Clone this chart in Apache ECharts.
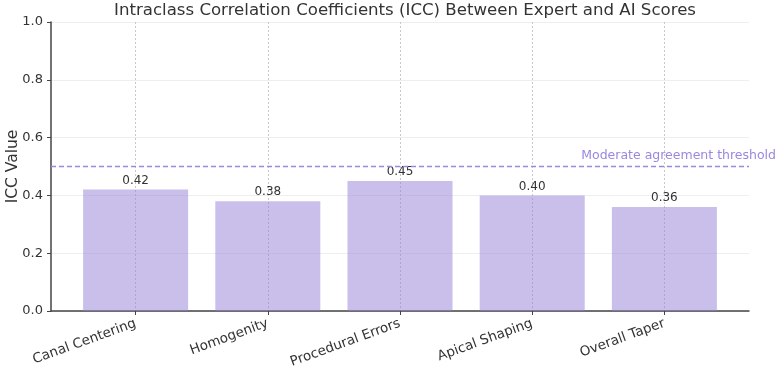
<!DOCTYPE html>
<html><head><meta charset="utf-8">
<script src="https://cdn.jsdelivr.net/npm/echarts@6/dist/echarts.min.js"></script>
<style>html,body{margin:0;padding:0;background:#fff}#c{width:776px;height:369px}</style>
</head><body><div id="c"></div>
<script>
const categories = ['Canal Centering', 'Homogenity', 'Procedural Errors', 'Apical Shaping', 'Overall Taper'];
const iccValues = [0.42, 0.38, 0.45, 0.40, 0.36];
const threshold = 0.5;
const thresholdLabel = 'Moderate agreement threshold';
const titleText = 'Intraclass Correlation Coefficients (ICC) Between Expert and AI Scores';

const positions = categories.map((_, i) => i);
const chart = echarts.init(document.getElementById('c'));
const font = 'DejaVu Sans';
chart.setOption({
  animation: false,
  textStyle: { fontFamily: font },
  title: { text: titleText, left: 400, top: -3, textAlign: 'center',
    textStyle: { fontFamily: font, fontSize: 16.6, fontWeight: 'normal', color: '#333' } },
  grid: { left: 51, right: 27, top: 22, bottom: 58, outerBoundsMode: 'none', containLabel: false },
  xAxis: {
    type: 'value', min: -0.64, max: 4.64,
    axisLine: { show: true, onZero: false, lineStyle: { color: '#444', width: 1.5 } },
    axisTick: { show: true, customValues: positions, length: 4, lineStyle: { color: '#444' } },
    axisLabel: { customValues: positions, rotate: 20, fontSize: 13.5, color: '#333', margin: 12,
      formatter: v => categories[Math.round(v)] || '' },
    splitLine: { show: true, lineStyle: { color: '#c8c8c8', type: [2, 2], width: 1 } }
  },
  yAxis: {
    type: 'value', min: 0, max: 1, interval: 0.2,
    name: 'ICC Value', nameLocation: 'middle', nameGap: 30, nameMoveOverlap: false,
    nameTextStyle: { fontSize: 15.5, color: '#333', fontFamily: font },
    axisLine: { show: true, onZero: false, lineStyle: { color: '#444', width: 1.5 } },
    axisTick: { show: true, length: 4, lineStyle: { color: '#444' } },
    axisLabel: { fontSize: 13, color: '#333', formatter: v => v.toFixed(1) },
    splitLine: { show: true, lineStyle: { color: '#eee', width: 1 } }
  },
  series: [{
    type: 'bar',
    data: iccValues.map((v, i) => [positions[i], v]),
    barWidth: 105,
    z: 1,
    itemStyle: { color: 'rgba(150,125,215,0.5)' },
    label: { show: true, position: 'top', distance: 3, fontSize: 12, color: '#333',
      formatter: p => p.value[1].toFixed(2) },
    markLine: {
      silent: true, symbol: 'none',
      lineStyle: { color: '#9b87e0', type: [5, 3], width: 1.3 },
      label: { show: true, position: 'insideEndTop', formatter: thresholdLabel,
        color: '#9b87e0', fontSize: 12.5, distance: [ -27, 4 ] },
      data: [{ yAxis: threshold }]
    }
  }]
});
</script></body></html>
